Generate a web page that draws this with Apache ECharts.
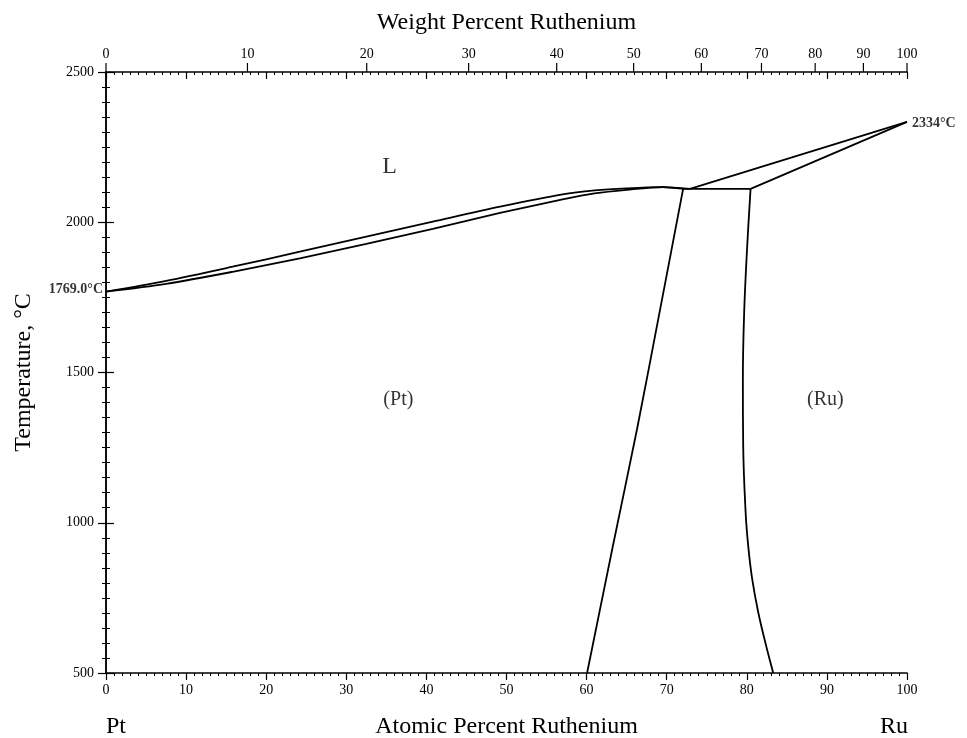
<!DOCTYPE html>
<html>
<head>
<meta charset="utf-8">
<script src="https://cdn.jsdelivr.net/npm/echarts@6/dist/echarts.min.js"></script>
<style>
html,body{margin:0;padding:0;background:#fff;overflow:hidden;}
#chart{width:967px;height:738px;}
</style>
</head>
<body>
<div id="chart"></div>
<script>
// ---- data (atomic percent Ru, temperature °C) ----
var liquidusPt = [[0,1769],[7.5,1805],[15.8,1852],[24.2,1902],[32.5,1952],[40.8,2002],[49.2,2052],[57,2093],[61,2106],[65,2113],[69.5,2117],[72.9,2111]];
var solidusPt  = [[0,1769],[7.5,1795],[15.8,1835],[24.2,1880],[32.5,1928],[40.8,1978],[49.2,2031],[57,2076],[61,2096],[65,2108],[69.5,2117],[72.05,2111]];
var eutectic   = [[72.05,2111],[80.47,2111]];
var liquidusRu = [[72.9,2111],[100,2334]];
var solidusRu  = [[80.47,2111],[100,2334]];
var solvusPt   = [[72.05,2111],[69.1,1699],[66.3,1312],[63.3,925],[60.06,500]];
var solvusRu   = [[80.47,2111],[80.05,1920],[79.67,1699],[79.51,1478],[79.55,1257],[79.85,1036],[80.17,925],[80.67,813],[81.42,703],[82.39,593],[83.3,500]];

var weightTicks = [0,10,20,30,40,50,60,70,80,90,100];
var phaseNames = ['L','(Pt)','(Ru)'];
var phaseX = [35.4, 36.5, 89.8];
var phaseY = [2185, 1408, 1408];
var meltPt = [0,1769], meltRu = [100,2334];

var MPt = 195.08, MRu = 101.07;
function wtToAt(w){ var a = w/MRu, b = (100-w)/MPt; return 100*a/(a+b); }

var FONT = "'Liberation Serif','Times New Roman',serif";
var black = '#000';

function lineSeries(data, smooth){
  return {type:'line', data:data, smooth:smooth||false, symbol:'none', silent:true,
    lineStyle:{color:black, width:1.8}, z:3};
}

var chart = echarts.init(document.getElementById('chart'), null, {renderer:'canvas'});
var option = {
  backgroundColor:'#fff',
  animation:false,
  grid:{left:106, right:60, top:72, bottom:65, containLabel:false, outerBoundsMode:'none'},
  xAxis:[
    {type:'value', position:'bottom', min:0, max:100, interval:10,
     axisLine:{lineStyle:{color:black,width:1.5}},
     axisTick:{inside:false, length:7, lineStyle:{color:black,width:1.2}},
     minorTick:{show:true, splitNumber:10, length:3, lineStyle:{color:black,width:1}},
     splitLine:{show:false},
     axisLabel:{color:black, fontFamily:FONT, fontSize:14, margin:10},
     name:'Atomic Percent Ruthenium', nameLocation:'middle', nameGap:42,
     nameTextStyle:{color:black, fontFamily:FONT, fontSize:24}},
    {type:'value', position:'top', min:0, max:100, interval:10,
     axisLine:{lineStyle:{color:black,width:1.5}},
     axisTick:{inside:true, length:7, lineStyle:{color:black,width:1.2}},
     minorTick:{show:true, splitNumber:10, length:3, lineStyle:{color:black,width:1}},
     splitLine:{show:false},
     axisLabel:{show:false},
     name:'Weight Percent Ruthenium', nameLocation:'middle', nameGap:37,
     nameTextStyle:{color:black, fontFamily:FONT, fontSize:24}}
  ],
  yAxis:[
    {type:'value', position:'left', min:500, max:2500, interval:500,
     axisLine:{show:true, lineStyle:{color:black,width:1.5}},
     axisTick:{show:true, inside:false, length:8, lineStyle:{color:black,width:1.2}},
     minorTick:{show:true, splitNumber:10, length:4, lineStyle:{color:black,width:1}},
     splitLine:{show:false},
     axisLabel:{color:black, fontFamily:FONT, fontSize:14, margin:12,
       formatter:function(v){ return String(v); }},
     name:'Temperature, °C', nameLocation:'middle', nameGap:70,
     nameTextStyle:{color:black, fontFamily:FONT, fontSize:24}},
    {type:'value', position:'right', min:500, max:2500, interval:500,
     axisLine:{show:true, lineStyle:{color:black,width:1.5}},
     axisTick:{show:true, inside:false, length:8, lineStyle:{color:black,width:1.2}},
     minorTick:{show:true, splitNumber:10, length:4, lineStyle:{color:black,width:1}},
     splitLine:{show:false},
     axisLabel:{show:false}}
  ],
  series:[
    lineSeries(liquidusPt, 0.3),
    lineSeries(solidusPt, 0.3),
    lineSeries(eutectic),
    lineSeries(liquidusRu),
    lineSeries(solidusRu),
    lineSeries(solvusPt, 0.3),
    lineSeries(solvusRu, 0.4),
    {type:'custom', clip:false, silent:true, z:5,
     data: weightTicks.map(function(w){ return [w]; }),
     renderItem:function(params, api){
       var w = api.value(0);
       var p = api.coord([wtToAt(w), 2500]);
       return {type:'group', children:[
         {type:'line', shape:{x1:p[0], y1:p[1], x2:p[0], y2:p[1]-9},
          style:{stroke:black, lineWidth:1.2}},
         {type:'text', style:{x:p[0], y:p[1]-11, text:String(w), fill:black,
          font:'14px '+FONT, textAlign:'center', textVerticalAlign:'bottom'}}
       ]};
     }},
    {type:'scatter', symbolSize:0, silent:true, z:6,
     data: phaseNames.map(function(n,i){ return {value:[phaseX[i], phaseY[i]], name:n,
       label:{fontSize: i===0 ? 24 : 20}}; }),
     label:{show:true, position:'inside', color:black, fontFamily:FONT,
       formatter:function(p){ return p.name; }}},
    {type:'scatter', symbolSize:0, silent:true, z:6,
     data:[
       {value:meltPt, name:meltPt[1].toFixed(1)+'°C',
        label:{position:'left', distance:3, offset:[0,-2]}},
       {value:meltRu, name:meltRu[1]+'°C',
        label:{position:'right', distance:5, offset:[0,2]}}
     ],
     label:{show:true, color:black, fontFamily:FONT, fontSize:14, fontWeight:'bold',
       formatter:function(p){ return p.name; }}}
  ],
  graphic:[
    {type:'text', left:106, top:715, style:{text:'Pt', fill:black, font:'24px '+FONT}},
    {type:'text', left:880, top:715, style:{text:'Ru', fill:black, font:'24px '+FONT}}
  ]
};
chart.setOption(option);
</script>
</body>
</html>
